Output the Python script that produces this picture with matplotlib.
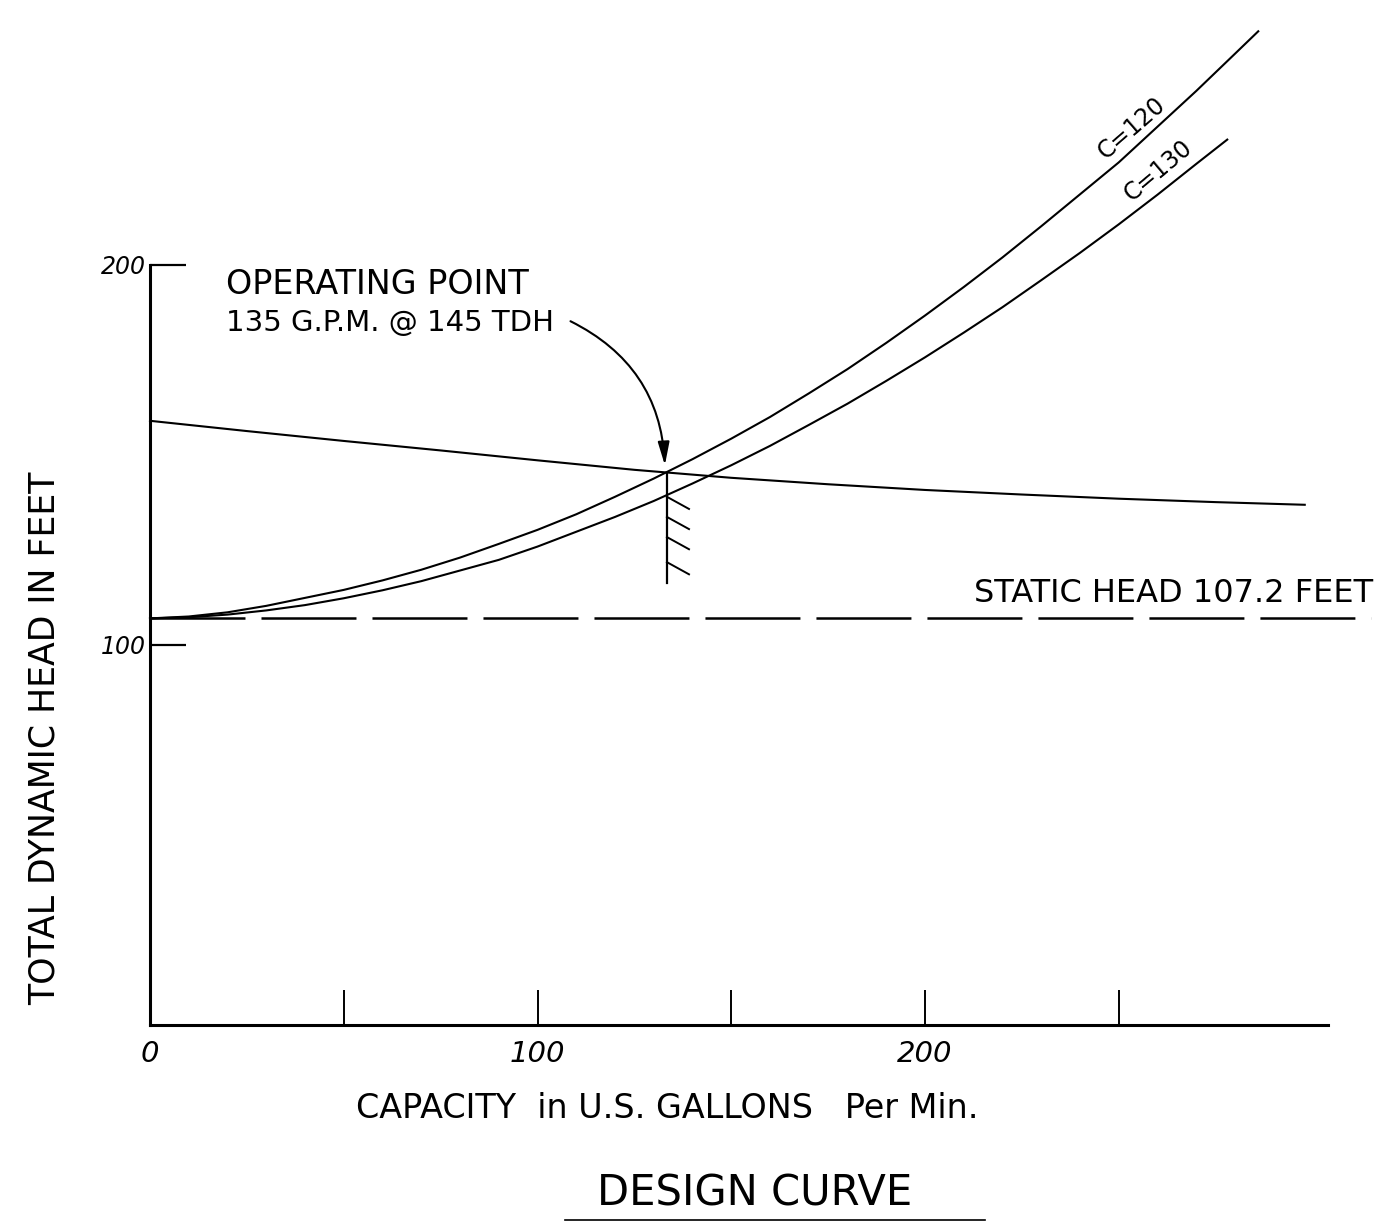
import matplotlib.pyplot as plt
from matplotlib.patches import FancyArrowPatch

# ---------------- data ----------------
pump_gpm = [0, 25, 50, 75, 100, 125, 150, 175, 200, 225, 250, 275, 298]
pump_head = [159, 156.3, 153.7, 151.2, 148.6, 146.1, 144.0, 142.3, 140.8, 139.6, 138.5, 137.6, 136.9]

c120_gpm = [0, 10, 20, 30, 40, 50, 60, 70, 80, 90, 100, 110, 120, 130, 140, 150,
            160, 170, 180, 190, 200, 210, 220, 230, 240, 250, 260, 270, 280, 286]
c120_head = [107, 107.5, 108.6, 110.3, 112.4, 114.5, 117.0, 119.8, 123.0, 126.6,
             130.3, 134.4, 139.0, 143.8, 148.9, 154.3, 160.0, 166.2, 172.6, 179.5,
             186.7, 194.2, 202.0, 210.2, 218.6, 227.0, 236.4, 245.8, 255.6, 261.5]

c130_gpm = [0, 10, 20, 30, 40, 50, 60, 70, 80, 90, 100, 110, 120, 130, 140, 150,
            160, 170, 180, 190, 200, 210, 220, 230, 240, 250, 260, 270, 278]
c130_head = [107, 107.3, 108.0, 109.1, 110.5, 112.3, 114.4, 116.8, 119.6, 122.4,
             125.9, 129.8, 133.7, 137.9, 142.5, 147.3, 152.4, 157.9, 163.5, 169.5,
             175.7, 182.2, 188.9, 196.0, 203.2, 210.7, 218.5, 226.6, 233.0]

static_head = 107.2
static_end_gpm = 315

op_gpm = 133.4
op_head = 145.3
op_low_head = 116.3
hatch_heads = [139.0, 133.7, 128.4, 121.8]

x_ticks = [0, 50, 100, 150, 200, 250]
x_tick_labels = ['0', '', '100', '', '200', '']
y_ticks = [100, 200]
y_tick_labels = ['100', '200']

# ---------------- figure ----------------
W, H = 1383, 1223
fig = plt.figure(figsize=(W / 100, H / 100), dpi=100)
fig.patch.set_facecolor('white')

ax = fig.add_axes([150 / W, (H - 1025) / H, 1 - 150 / W, 1025 / H])
ax.set_facecolor('none')
ax.set_xlim(0, (W - 150) / 3.875)
ax.set_ylim(0, 1025 / 3.8)

for s in ('top', 'right'):
    ax.spines[s].set_visible(False)
ax.spines['left'].set_bounds(0, 200)
ax.spines['bottom'].set_bounds(0, 304)
ax.spines['left'].set_linewidth(2.2)
ax.spines['bottom'].set_linewidth(2.2)

ax.set_xticks(x_ticks)
ax.set_xticklabels(x_tick_labels, fontsize=21, fontstyle='italic')
ax.set_yticks(y_ticks)
ax.set_yticklabels(y_tick_labels, fontsize=17, fontstyle='italic')
ax.tick_params(axis='x', direction='in', length=25, width=1.4, pad=11)
ax.tick_params(axis='y', direction='in', length=26, width=1.6, pad=3)

lw = 1.5
ax.plot(pump_gpm, pump_head, color='black', lw=lw, clip_on=False)
ax.plot(c120_gpm, c120_head, color='black', lw=lw, clip_on=False)
ax.plot(c130_gpm, c130_head, color='black', lw=lw, clip_on=False)

slw = 1.8
ax.plot([0, static_end_gpm], [static_head, static_head], color='black', lw=slw,
        linestyle=(0, (95 / 1.389 / slw, 16 / 1.389 / slw)), clip_on=False)

# operating point marker with hatching
ax.plot([op_gpm, op_gpm], [op_head, op_low_head], color='black', lw=1.6)
for hh in hatch_heads:
    ax.plot([op_gpm, op_gpm + 5.7], [hh, hh - 3.2], color='black', lw=1.4)

# curved arrow from label to operating point
arrow = FancyArrowPatch((568 / W, 1 - 320 / H), (665 / W, 1 - 468 / H),
                        transform=fig.transFigure,
                        connectionstyle='arc3,rad=-0.3',
                        arrowstyle='-|>,head_length=14,head_width=3.5',
                        color='black', lw=1.5)
fig.patches.append(arrow)


def px(x, y):
    return x / W, 1 - y / H


fig.text(*px(226, 284), 'OPERATING POINT', fontsize=24, ha='left', va='center')
fig.text(*px(226, 323), '135 G.P.M. @ 145 TDH', fontsize=21, ha='left', va='center')
fig.text(*px(1174, 594), 'STATIC HEAD 107.2 FEET', fontsize=23, ha='center', va='center')
fig.text(*px(1132, 128), 'C=120', fontsize=17, rotation=41, ha='center', va='center')
fig.text(*px(1158, 171), 'C=130', fontsize=17, rotation=40, ha='center', va='center')
fig.text(*px(45, 738), 'TOTAL DYNAMIC HEAD IN FEET', fontsize=25, rotation=90,
         ha='center', va='center')
fig.text(*px(667, 1108), 'CAPACITY  in U.S. GALLONS   Per Min.', fontsize=24,
         ha='center', va='center')
fig.text(*px(755, 1193), 'DESIGN CURVE', fontsize=30, ha='center', va='center')
fig.add_artist(plt.Line2D([565 / W, 985 / W], [1 - 1220 / H, 1 - 1220 / H],
                          transform=fig.transFigure, color='black', lw=1.2))

fig.savefig('out.png', dpi=100)
